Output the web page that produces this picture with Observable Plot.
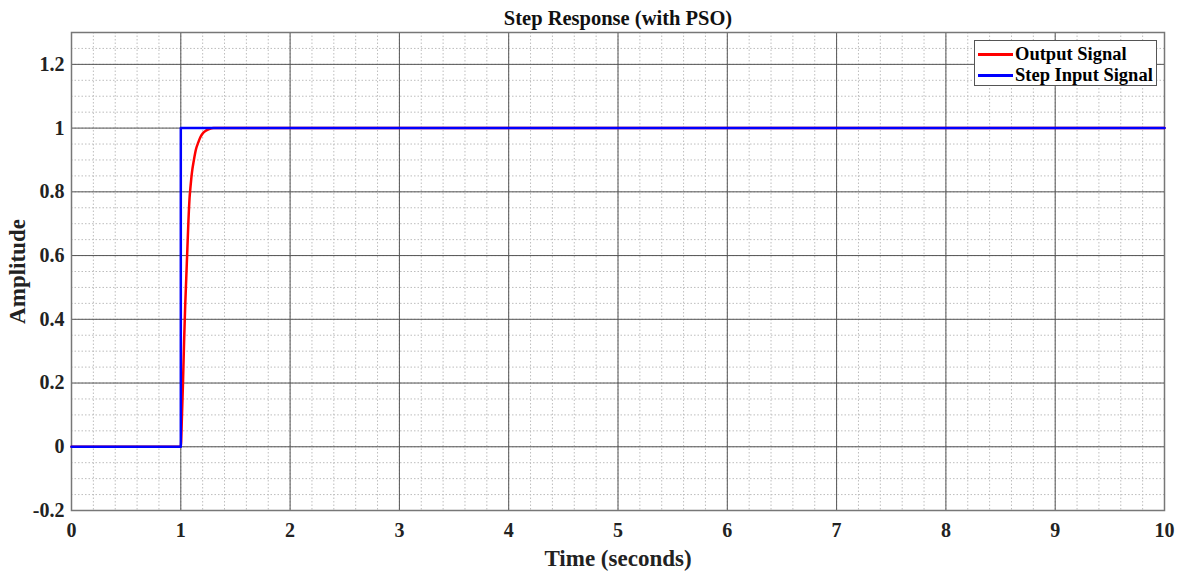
<!DOCTYPE html>
<html><head><meta charset="utf-8">
<script src="https://cdn.jsdelivr.net/npm/d3@7"></script>
<script src="https://cdn.jsdelivr.net/npm/@observablehq/plot@0.6"></script>
<style>
body{margin:0;background:#fff;}
#wrap{position:relative;width:1177px;height:572px;font-family:"Liberation Serif","Times New Roman",serif;}
#legend{position:absolute;left:974px;top:40px;width:183px;height:46px;background:#fff;border:1px solid #555;box-sizing:border-box;font-weight:bold;font-size:18.5px;}
.row{position:absolute;left:3px;height:21px;display:flex;align-items:center;}
.sw{width:35px;height:2.5px;margin-right:2px;}
</style></head>
<body><div id="wrap"></div>
<script>
// Output signal (red)
const outputTime = [0, 1.0, 1.01, 1.02, 1.03, 1.04, 1.05, 1.06, 1.07, 1.08, 1.09, 1.10, 1.12, 1.14, 1.16, 1.18, 1.20, 1.23, 1.26, 1.30, 10];
const outputAmp  = [0, 0,   0.09, 0.20, 0.33, 0.44, 0.53, 0.62, 0.71, 0.78, 0.82, 0.855, 0.90, 0.935, 0.955, 0.972, 0.983, 0.992, 0.997, 1.0, 1.0];
// Step input (blue)
const inputTime = [0, 1, 1, 10];
const inputAmp  = [0, 0, 1, 1];
// ticks
const xTicks = [0,1,2,3,4,5,6,7,8,9,10];
const yTicks = [-0.2,0,0.2,0.4,0.6,0.8,1,1.2];
const xMinor = d3.range(0, 51).map(i => i*0.2);
const yMinor = d3.range(0, 31).map(i => -0.2 + i*0.05);

const outData = outputTime.map((t,i)=>({t, y: outputAmp[i]}));
const inData = inputTime.map((t,i)=>({t, y: inputAmp[i]}));

const font = {fontFamily:"Liberation Serif", fontWeight:"bold"};

const chart = Plot.plot({
  width: 1177, height: 572,
  marginLeft: 71, marginRight: 13, marginTop: 32, marginBottom: 62,
  style: {fontFamily: "Liberation Serif", background: "transparent", color: "#222"},
  x: {domain: [0, 10]},
  y: {domain: [-0.2, 1.3]},
  marks: [
    Plot.ruleX(xMinor, {stroke: "#bdbdbd", strokeWidth: 1, strokeDasharray: "1.5,2"}),
    Plot.ruleY(yMinor, {stroke: "#bdbdbd", strokeWidth: 1, strokeDasharray: "1.5,2"}),
    Plot.ruleX(xTicks, {stroke: "#555", strokeWidth: 1}),
    Plot.ruleY(yTicks, {stroke: "#555", strokeWidth: 1}),
    Plot.frame({stroke: "#777", strokeWidth: 1.5}),
    Plot.line(outData, {x: "t", y: "y", stroke: "#ff0000", strokeWidth: 2.5, curve: "monotone-x"}),
    Plot.line(inData, {x: "t", y: "y", stroke: "#0000ff", strokeWidth: 2.5}),
    Plot.axisX({ticks: xTicks, tickSize: 0, tickPadding: 12, fontSize: 20, ...font, tickFormat: d => String(d),
      label: "Time (seconds)", labelAnchor: "center", labelArrow: "none", labelOffset: 55}),
    Plot.axisY({ticks: yTicks, tickSize: 0, tickPadding: 7, fontSize: 20, ...font, tickFormat: d => String(+d.toFixed(1)),
      label: "Amplitude", labelAnchor: "center", labelArrow: "none", labelOffset: 63}),
    Plot.text(["Step Response (with PSO)"], {frameAnchor: "top", lineAnchor: "middle", dy: -14, fontSize: 20.5, ...font, fill: "#111"})
  ]
});
chart.querySelectorAll("g[aria-label='x-axis label'] text, g[aria-label='y-axis label'] text").forEach(t => {
  t.setAttribute("font-size", "23"); t.setAttribute("font-weight", "bold");
});
document.getElementById("wrap").appendChild(chart);

const legend = document.createElement("div");
legend.id = "legend";
legend.innerHTML = `<div class="row" style="top:3px"><div class="sw" style="background:#ff0000"></div>Output Signal</div>
<div class="row" style="top:24px"><div class="sw" style="background:#0000ff"></div>Step Input Signal</div>`;
document.getElementById("wrap").appendChild(legend);
</script></body></html>
